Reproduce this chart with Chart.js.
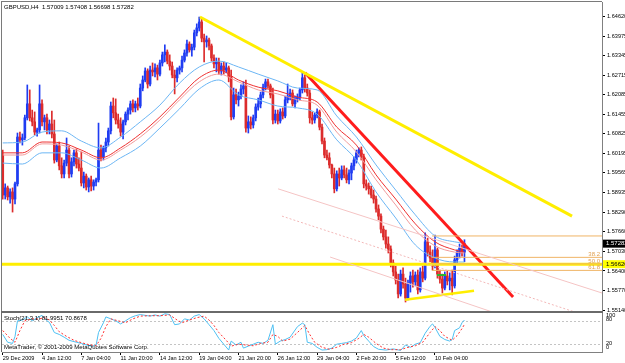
<!DOCTYPE html>
<html>
<head>
<meta charset="utf-8">
<script src="https://cdn.jsdelivr.net/npm/chart.js@4.4.1/dist/chart.umd.min.js"></script>
<style>
  html, body { margin: 0; padding: 0; background: #fff; }
  #wrap { position: relative; width: 625px; height: 363px; overflow: hidden; }
  #main { position: absolute; left: 0; top: 0; }
  #sub { position: absolute; left: 0; top: 312px; }
</style>
</head>
<body>
<div id="wrap">
  <canvas id="main" width="625" height="312"></canvas>
  <canvas id="sub" width="625" height="51"></canvas>
</div>
<script>
// GBPUSD H4 candles, one entry per bar (bar index = array position)
const opens = [
  1.6014,1.5885,1.5908,1.5879,1.5895,1.5872,1.5921,1.6072,1.6063,1.6069,
  1.6134,1.6179,1.6134,1.6121,1.6088,1.6095,1.6179,1.6121,1.6134,1.6095,
  1.6114,1.6082,1.5998,1.6043,1.5979,1.5953,1.5988,1.6030,1.5953,1.5992,
  1.6021,1.5985,1.5972,1.5924,1.5946,1.5911,1.5934,1.5914,1.5927,1.5934,
  1.6030,1.6008,1.6037,1.6056,1.6092,1.6172,1.6150,1.6127,1.6114,1.6088,
  1.6121,1.6146,1.6159,1.6179,1.6166,1.6179,1.6172,1.6230,1.6256,1.6285,
  1.6243,1.6288,1.6282,1.6295,1.6275,1.6311,1.6337,1.6346,1.6317,1.6301,
  1.6272,1.6263,1.6288,1.6295,1.6320,1.6343,1.6372,1.6353,1.6362,1.6408,
  1.6424,1.6443,1.6391,1.6379,1.6385,1.6366,1.6327,1.6308,1.6314,1.6285,
  1.6301,1.6288,1.6295,1.6266,1.6137,1.6208,1.6192,1.6204,1.6227,1.6237,
  1.6101,1.6121,1.6111,1.6134,1.6169,1.6179,1.6208,1.6233,1.6250,1.6237,
  1.6208,1.6127,1.6146,1.6124,1.6153,1.6140,1.6192,1.6204,1.6214,1.6179,
  1.6195,1.6201,1.6224,1.6263,1.6230,1.6214,1.6134,1.6127,1.6143,1.6153,
  1.6104,1.6059,1.6014,1.6005,1.5982,1.5953,1.5905,1.5953,1.5940,1.5966,
  1.5950,1.5934,1.5956,1.5979,1.5998,1.6021,1.6030,1.6008,1.5921,1.5914,
  1.5905,1.5885,1.5872,1.5840,1.5817,1.5775,1.5750,1.5727,1.5711,1.5666,
  1.5637,1.5611,1.5566,1.5630,1.5598,1.5553,1.5601,1.5624,1.5605,1.5627,
  1.5579,1.5637,1.5617,1.5734,1.5701,1.5682,1.5656,1.5708,1.5630,1.5614,
  1.5585,1.5624,1.5608,1.5617,1.5592,1.5676,1.5698,1.5714,1.57009
];
const highs = [
  1.6030,1.5921,1.5914,1.5905,1.5908,1.5927,1.6085,1.6088,1.6082,1.6143,
  1.6240,1.6224,1.6159,1.6153,1.6101,1.6240,1.6192,1.6143,1.6146,1.6127,
  1.6156,1.6127,1.6050,1.6056,1.6005,1.5998,1.6069,1.6043,1.6005,1.6030,
  1.6034,1.6005,1.6024,1.5959,1.5953,1.5940,1.5946,1.5934,1.5940,1.6117,
  1.6046,1.6043,1.6069,1.6101,1.6185,1.6198,1.6195,1.6146,1.6134,1.6127,
  1.6153,1.6166,1.6188,1.6192,1.6188,1.6198,1.6243,1.6269,1.6295,1.6292,
  1.6301,1.6311,1.6308,1.6304,1.6320,1.6346,1.6369,1.6353,1.6337,1.6314,
  1.6288,1.6295,1.6301,1.6333,1.6353,1.6385,1.6379,1.6372,1.6417,1.6437,
  1.6459,1.6456,1.6404,1.6398,1.6391,1.6372,1.6337,1.6327,1.6327,1.6311,
  1.6314,1.6311,1.6301,1.6288,1.6230,1.6227,1.6217,1.6240,1.6250,1.6256,
  1.6140,1.6137,1.6143,1.6179,1.6198,1.6217,1.6243,1.6259,1.6259,1.6243,
  1.6230,1.6159,1.6159,1.6163,1.6166,1.6204,1.6243,1.6227,1.6224,1.6204,
  1.6211,1.6230,1.6279,1.6272,1.6243,1.6224,1.6153,1.6150,1.6163,1.6159,
  1.6114,1.6069,1.6030,1.6021,1.5985,1.5972,1.5963,1.5972,1.5979,1.5979,
  1.5972,1.5966,1.5988,1.6008,1.6030,1.6037,1.6040,1.6017,1.5934,1.5924,
  1.5914,1.5901,1.5882,1.5853,1.5824,1.5785,1.5772,1.5750,1.5721,1.5676,
  1.5656,1.5630,1.5643,1.5650,1.5617,1.5611,1.5637,1.5643,1.5637,1.5643,
  1.5650,1.5656,1.5763,1.5746,1.5721,1.5708,1.5756,1.5714,1.5643,1.5630,
  1.5637,1.5640,1.5634,1.5643,1.5688,1.5708,1.5727,1.5724,1.57408
];
const lows = [
  1.5872,1.5872,1.5869,1.5859,1.5830,1.5856,1.5914,1.6053,1.6046,1.6063,
  1.6127,1.6124,1.6108,1.6079,1.6075,1.6085,1.6108,1.6095,1.6082,1.6082,
  1.6069,1.5988,1.5992,1.5966,1.5940,1.5940,1.5979,1.5940,1.5943,1.5979,
  1.5972,1.5963,1.5914,1.5908,1.5901,1.5895,1.5898,1.5901,1.5914,1.5927,
  1.5995,1.5998,1.6024,1.6043,1.6082,1.6134,1.6114,1.6101,1.6075,1.6066,
  1.6111,1.6127,1.6146,1.6153,1.6153,1.6159,1.6166,1.6221,1.6250,1.6230,
  1.6237,1.6269,1.6266,1.6256,1.6269,1.6301,1.6314,1.6308,1.6288,1.6263,
  1.6211,1.6250,1.6275,1.6282,1.6314,1.6333,1.6346,1.6333,1.6353,1.6398,
  1.6414,1.6379,1.6314,1.6362,1.6353,1.6317,1.6295,1.6282,1.6275,1.6272,
  1.6275,1.6279,1.6250,1.6127,1.6130,1.6179,1.6172,1.6195,1.6211,1.6088,
  1.6085,1.6098,1.6101,1.6124,1.6159,1.6166,1.6198,1.6224,1.6230,1.6198,
  1.6114,1.6117,1.6114,1.6117,1.6130,1.6134,1.6182,1.6192,1.6172,1.6166,
  1.6185,1.6192,1.6214,1.6217,1.6204,1.6117,1.6114,1.6117,1.6134,1.6095,
  1.6050,1.6005,1.5998,1.5972,1.5940,1.5892,1.5898,1.5914,1.5934,1.5940,
  1.5924,1.5921,1.5934,1.5966,1.5988,1.6008,1.5998,1.5908,1.5901,1.5888,
  1.5876,1.5859,1.5830,1.5805,1.5763,1.5740,1.5714,1.5698,1.5653,1.5624,
  1.5598,1.5553,1.5559,1.5585,1.5540,1.5547,1.5572,1.5588,1.5592,1.5566,
  1.5572,1.5605,1.5611,1.5688,1.5669,1.5643,1.5650,1.5617,1.5601,1.5569,
  1.5579,1.5595,1.5579,1.5563,1.5585,1.5663,1.5682,1.5688,1.56698
];
const closes = [
  1.5885,1.5908,1.5879,1.5895,1.5872,1.5921,1.6072,1.6063,1.6069,1.6134,
  1.6179,1.6134,1.6121,1.6088,1.6095,1.6179,1.6121,1.6134,1.6095,1.6114,
  1.6082,1.5998,1.6043,1.5979,1.5953,1.5988,1.6030,1.5953,1.5992,1.6021,
  1.5985,1.5972,1.5924,1.5946,1.5911,1.5934,1.5914,1.5927,1.5934,1.6030,
  1.6008,1.6037,1.6056,1.6092,1.6172,1.6150,1.6127,1.6114,1.6088,1.6121,
  1.6146,1.6159,1.6179,1.6166,1.6179,1.6172,1.6230,1.6256,1.6285,1.6243,
  1.6288,1.6282,1.6295,1.6275,1.6311,1.6337,1.6346,1.6317,1.6301,1.6272,
  1.6263,1.6288,1.6295,1.6320,1.6343,1.6372,1.6353,1.6362,1.6408,1.6424,
  1.6443,1.6391,1.6379,1.6385,1.6366,1.6327,1.6308,1.6314,1.6285,1.6301,
  1.6288,1.6295,1.6266,1.6137,1.6208,1.6192,1.6204,1.6227,1.6237,1.6101,
  1.6121,1.6111,1.6134,1.6169,1.6179,1.6208,1.6233,1.6250,1.6237,1.6208,
  1.6127,1.6146,1.6124,1.6153,1.6140,1.6192,1.6204,1.6214,1.6179,1.6195,
  1.6201,1.6224,1.6263,1.6230,1.6214,1.6134,1.6127,1.6143,1.6153,1.6104,
  1.6059,1.6014,1.6005,1.5982,1.5953,1.5905,1.5953,1.5940,1.5966,1.5950,
  1.5934,1.5956,1.5979,1.5998,1.6021,1.6030,1.6008,1.5921,1.5914,1.5905,
  1.5885,1.5872,1.5840,1.5817,1.5775,1.5750,1.5727,1.5711,1.5666,1.5637,
  1.5611,1.5566,1.5630,1.5598,1.5553,1.5601,1.5624,1.5605,1.5627,1.5579,
  1.5637,1.5617,1.5734,1.5701,1.5682,1.5656,1.5708,1.5630,1.5614,1.5585,
  1.5624,1.5608,1.5617,1.5592,1.5676,1.5698,1.5714,1.5701,1.57282
];

// moving averages and envelope at these bars
const maIdx = [0,8,16,24,32,40,48,56,64,72,80,88,96,104,112,120,128,136,144,152,160,168,176,184,188];
const maUpper = [1.6053,1.6056,1.6088,1.6092,1.6059,1.6037,1.6072,1.6121,1.6175,1.6246,1.6298,1.6317,1.6298,1.6275,1.6253,1.6230,1.6224,1.6140,1.6072,1.5982,1.5901,1.5821,1.5753,1.5734,1.5730];
const maFast = [1.6021,1.6021,1.6056,1.6053,1.6030,1.6005,1.6037,1.6082,1.6137,1.6201,1.6263,1.6288,1.6256,1.6233,1.6221,1.6201,1.6185,1.6104,1.6046,1.5950,1.5872,1.5792,1.5734,1.5708,1.5701];
const maSlow = [1.6014,1.6014,1.6050,1.6046,1.6024,1.5998,1.6030,1.6072,1.6127,1.6192,1.6250,1.6275,1.6250,1.6224,1.6211,1.6192,1.6175,1.6088,1.6024,1.5934,1.5853,1.5772,1.5721,1.5701,1.5698];
const maLower = [1.5988,1.5985,1.6021,1.6021,1.5998,1.5972,1.6005,1.6043,1.6101,1.6163,1.6227,1.6256,1.6208,1.6192,1.6172,1.6166,1.6146,1.6063,1.5998,1.5895,1.5811,1.5724,1.5682,1.5669,1.5669];

// Stoch(21,3,1)
const stochIdx = [0,2,4,5,6,8,10,12,14,16,18,19,21,23,25,27,30,32,34,36,38,39,41,42,44,46,48,50,52,54,56,58,60,62,64,66,68,70,72,74,76,78,80,82,84,86,88,90,92,93,95,97,98,100,102,104,106,108,110,111,113,115,117,120,122,123,124,126,128,130,132,134,136,138,140,142,144,146,147,149,151,153,156,159,162,164,166,168,170,172,174,175,176,178,180,182,183,184,186,187,188];
const stochMain = [45,25,22,40,80,82,90,80,88,94,80,76,50,45,38,30,25,22,18,15,17,50,75,90,85,80,72,80,88,93,96,94,92,95,92,98,96,70,72,85,82,92,96,85,70,55,35,20,5,28,18,25,10,15,20,25,22,30,70,20,28,32,38,65,74,70,25,22,12,5,6,10,20,22,24,28,36,55,42,28,14,7,5,8,4,18,12,20,24,48,66,72,63,40,32,28,32,55,62,75,82];
const signalIdx = [0,3,5,7,9,12,15,17,19,21,23,26,29,32,35,38,40,42,44,47,50,53,56,60,64,68,71,73,76,79,82,84,86,88,91,93,96,99,102,105,108,110,112,114,117,120,123,125,127,130,133,136,139,142,145,147,149,152,155,158,162,165,168,171,174,176,178,180,183,185,187,188];
const stochSignal = [55,35,25,55,80,85,85,88,82,68,52,40,30,24,19,16,35,65,85,80,75,85,92,93,93,95,82,75,82,88,92,82,68,50,30,15,20,18,16,22,25,45,40,28,33,50,68,45,25,12,7,12,20,24,35,45,38,22,10,6,6,12,16,25,50,65,55,40,30,42,60,71];

// axis labels
const priceTicks = [1.6462,1.63975,1.63345,1.62715,1.62085,1.61455,1.60825,1.60195,1.59565,1.58935,1.5829,1.5766,1.5703,1.564,1.5577,1.5514];
const dateTicks = [0,16,32,48,64,80,96,112,128,144,160,176];
const dateLabels = ["29 Dec 2009","4 Jan 12:00","7 Jan 04:00","11 Jan 20:00","14 Jan 12:00","19 Jan 04:00","21 Jan 20:00","26 Jan 12:00","29 Jan 04:00","2 Feb 20:00","5 Feb 12:00","10 Feb 04:00"];

// drawn objects, [bar index, price]
const yellowTrend = [[80.3, 1.6459], [231.8, 1.5817]];
const redTrend = [[123.1, 1.6279], [207.8, 1.5556]];
const yellowSupport = [[163.8, 1.5547], [191.9, 1.5576]];
const channelA = [[112.1, 1.5905], [244, 1.5569]];
const channelB = [[113.7, 1.5817], [244, 1.5479]];
const channelC = [[133.3, 1.5685], [244, 1.5388]];
const greenMark = [[176.8, 1.5627], [180.5, 1.5627]];
const hLevel = 1.5662;
const fibStart = 174.8;
const fibPrices = [1.5753, 1.5684, 1.5663, 1.5642];
const fibNames = ["", "38.2", "50.0", "61.8"];

const X_MIN = -0.3, X_MAX = 244;
const FONT = "Liberation Sans";
Chart.defaults.font.family = FONT;
Chart.defaults.color = "#000";

const idx = closes.map((c, i) => i);
const candleColor = idx.map((i) => (closes[i] >= opens[i] ? "#1f3cf2" : "#dc2c2c"));

function seg(points, color, width, dash) {
  return {
    type: "line",
    data: points.map((p) => ({ x: p[0], y: p[1] })),
    borderColor: color,
    borderWidth: width,
    borderDash: dash || [],
    pointRadius: 0,
    order: 1,
  };
}
function maLine(values, color) {
  return {
    type: "line",
    data: maIdx.map((x, k) => ({ x: x, y: values[k] })),
    borderColor: color,
    borderWidth: 1,
    pointRadius: 0,
    cubicInterpolationMode: "monotone",
    order: 2,
  };
}

const fibSets = fibPrices.map((p) => seg([[fibStart, p], [X_MAX, p]], "#f0b466", 1));

const mainText = {
  id: "mainText",
  afterDraw(chart) {
    const { ctx, chartArea: a, scales } = chart;
    const y = scales.y;
    ctx.save();
    ctx.fillStyle = "#7a7a7a";
    ctx.fillRect(1, 1, a.right - 1, 1);
    ctx.fillRect(1, 1, 1, a.bottom);
    ctx.fillStyle = "#6a6a6a";
    ctx.fillRect(1, a.bottom, a.right, 1);

    ctx.font = `6px ${FONT}`;
    ctx.textBaseline = "middle";
    ctx.fillStyle = "#000";
    ctx.fillText("GBPUSD,H4  1.57009 1.57408 1.56698 1.57282", 4, 7);

    // fibo level names
    ctx.fillStyle = "#e0a050";
    ctx.textAlign = "right";
    fibPrices.forEach((p, k) => {
      if (fibNames[k]) ctx.fillText(fibNames[k], 600, y.getPixelForValue(p) - 3);
    });

    // price boxes on the axis
    ctx.textAlign = "left";
    const yl = y.getPixelForValue(hLevel);
    ctx.fillStyle = "#ffff00";
    ctx.fillRect(a.right + 1, yl - 4, 24, 8);
    ctx.fillStyle = "#000";
    ctx.fillText(hLevel.toFixed(5), a.right + 4, yl);
    const yc = y.getPixelForValue(closes[closes.length - 1]);
    ctx.fillStyle = "#000";
    ctx.fillRect(a.right + 1, yc - 4, 24, 8);
    ctx.fillStyle = "#fff";
    ctx.fillText(closes[closes.length - 1].toFixed(5), a.right + 4, yc);
    ctx.restore();
  },
};

new Chart(document.getElementById("main"), {
  type: "bar",
  data: {
    datasets: [
      {
        data: idx.map((i) => ({ x: i, y: [lows[i], highs[i]] })),
        backgroundColor: candleColor,
        barThickness: 1,
        grouped: false,
        order: 4,
      },
      {
        data: idx.map((i) => ({ x: i, y: [opens[i], closes[i]] })),
        backgroundColor: candleColor,
        barThickness: 2,
        minBarLength: 1,
        grouped: false,
        order: 3,
      },
      maLine(maUpper, "#6cb6f4"),
      maLine(maLower, "#6cb6f4"),
      maLine(maSlow, "#f29a9a"),
      maLine(maFast, "#ee3030"),
      seg(channelA, "#f5c4c4", 1),
      seg(channelB, "#f3b8b8", 1, [2, 2]),
      seg(channelC, "#f5c4c4", 1),
      ...fibSets,
      seg([[X_MIN - 2, hLevel], [X_MAX + 2, hLevel]], "#ffee00", 3),
      seg(yellowTrend, "#ffee00", 3),
      seg(yellowSupport, "#ffee00", 2.5),
      seg(redTrend, "#ff1c1c", 3),
      seg(greenMark, "#2ab52a", 2),
    ],
  },
  options: {
    responsive: false,
    animation: false,
    events: [],
    devicePixelRatio: 1,
    layout: { padding: { left: 2, top: 2, right: 0, bottom: 1 } },
    plugins: { legend: { display: false }, tooltip: { enabled: false } },
    scales: {
      x: {
        type: "linear",
        min: X_MIN,
        max: X_MAX,
        offset: false,
        display: false,
        grid: { offset: false },
      },
      y: {
        position: "right",
        min: 1.5511,
        max: 1.65075,
        afterBuildTicks: (s) => {
          s.ticks = priceTicks.map((v) => ({ value: v }));
        },
        afterFit: (s) => {
          s.width = 23;
          s.paddingTop = 0;
          s.paddingBottom = 0;
        },
        grid: { drawOnChartArea: false, tickLength: 3, color: "#000" },
        border: { color: "#808080" },
        ticks: {
          font: { size: 5.6 },
          padding: 2,
          color: "#000",
          callback: (v) => Number(v).toFixed(5),
        },
      },
    },
  },
  plugins: [mainText],
});

const subText = {
  id: "subText",
  beforeDatasetsDraw(chart) {
    const { ctx, chartArea: a, scales } = chart;
    const y = scales.y;
    ctx.save();
    ctx.strokeStyle = "#c4c4c4";
    ctx.setLineDash([2, 2]);
    [80, 20].forEach((v) => {
      const py = Math.round(y.getPixelForValue(v)) + 0.5;
      ctx.beginPath();
      ctx.moveTo(a.left, py);
      ctx.lineTo(a.right, py);
      ctx.stroke();
    });
    ctx.restore();
  },
  afterDraw(chart) {
    const { ctx, chartArea: a } = chart;
    ctx.save();
    ctx.fillStyle = "#6a6a6a";
    ctx.fillRect(1, 0, a.right, 1);
    ctx.fillRect(1, 0, 1, a.bottom);
    ctx.font = `6px ${FONT}`;
    ctx.textBaseline = "middle";
    ctx.fillStyle = "#000";
    ctx.fillText("Stoch(21,3,1) 81.9951 70.8678", 4, 6);
    ctx.fillText("MetaTrader, \u00a9 2001-2009 MetaQuotes Software Corp.", 4, 35);
    ctx.font = `5.6px ${FONT}`;
    ctx.fillText("100", a.right + 4, 3.5);
    ctx.fillText("80", a.right + 4, 7);
    ctx.fillText("20", a.right + 4, 31);
    ctx.fillText("0", a.right + 4, 35);
    ctx.restore();
  },
};

new Chart(document.getElementById("sub"), {
  type: "line",
  data: {
    datasets: [
      {
        data: signalIdx.map((x, k) => ({ x: x, y: stochSignal[k] })),
        borderColor: "#ff3030",
        borderWidth: 1,
        borderDash: [2, 2],
        pointRadius: 0,
      },
      {
        data: stochIdx.map((x, k) => ({ x: x, y: stochMain[k] })),
        borderColor: "#4fc0f2",
        borderWidth: 1,
        pointRadius: 0,
      },
    ],
  },
  options: {
    responsive: false,
    animation: false,
    events: [],
    devicePixelRatio: 1,
    layout: { padding: { left: 2, top: 1, right: 0, bottom: 0 } },
    plugins: { legend: { display: false }, tooltip: { enabled: false } },
    scales: {
      x: {
        type: "linear",
        min: X_MIN,
        max: X_MAX,
        afterBuildTicks: (s) => {
          s.ticks = dateTicks.map((v) => ({ value: v }));
        },
        afterFit: (s) => {
          s.height = 11;
          s.paddingLeft = 0;
          s.paddingRight = 0;
        },
        grid: { drawOnChartArea: false, tickLength: 3, color: "#000" },
        border: { color: "#808080" },
        ticks: {
          font: { size: 5.6 },
          padding: 0,
          align: "start",
          maxRotation: 0,
          autoSkip: false,
          callback: (v, i) => dateLabels[i],
        },
      },
      y: {
        position: "right",
        min: 0,
        max: 100,
        afterFit: (s) => {
          s.width = 23;
          s.paddingTop = 0;
          s.paddingBottom = 0;
        },
        grid: { display: false },
        border: { color: "#808080" },
        ticks: { display: false },
      },
    },
  },
  plugins: [subText],
});
</script>
</body>
</html>
